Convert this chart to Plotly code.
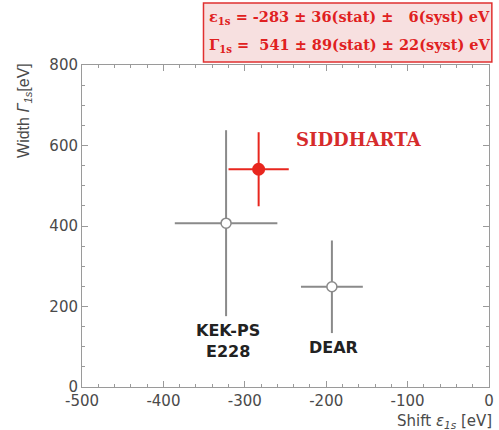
import plotly.graph_objects as go

names = ["SIDDHARTA", "KEK-PS E228", "DEAR"]
shift = [-283, -323, -193]
shift_err = [37, 63, 38]
width = [541, 407, 249]
width_err = [92, 231, 115]

x_ticks = [-500, -400, -300, -200, -100, 0]
x_ticktext = ["-500", "-400", "-300", "-200", "-100", "0"]
y_ticks = [0, 200, 400, 600, 800]

fig = go.Figure()

gray = "#8a8a8a"
red = "#e8261e"

# KEK-PS and DEAR (open markers)
fig.add_trace(go.Scatter(
    x=shift[1:], y=width[1:], mode="markers",
    marker=dict(symbol="circle", size=10, color="white", line=dict(color=gray, width=1.5)),
    error_x=dict(type="data", array=shift_err[1:], color=gray, thickness=2, width=0),
    error_y=dict(type="data", array=width_err[1:], color=gray, thickness=2, width=0),
    showlegend=False, hoverinfo="skip"))

# SIDDHARTA
fig.add_trace(go.Scatter(
    x=shift[:1], y=width[:1], mode="markers",
    marker=dict(symbol="circle", size=13, color=red, line=dict(color=red, width=0)),
    error_x=dict(type="data", array=shift_err[:1], color=red, thickness=2, width=0),
    error_y=dict(type="data", array=width_err[:1], color=red, thickness=2, width=0),
    showlegend=False, hoverinfo="skip"))

axis_common = dict(
    showgrid=False, zeroline=False, showline=True, linecolor="#9a9a9a", linewidth=1,
    mirror="ticks", ticks="inside", tickcolor="#9a9a9a", ticklen=6, tickwidth=1,
    tickfont=dict(family="DejaVu Sans", size=15, color="#4a4a4a"),
)
fig.update_xaxes(range=[-500, 0], tickvals=x_ticks, ticktext=x_ticktext,
                 minor=dict(dtick=20, ticks="inside", ticklen=3, tickcolor="#9a9a9a"),
                 **axis_common)
fig.update_yaxes(range=[0, 800], tickvals=y_ticks,
                 minor=dict(dtick=50, ticks="inside", ticklen=3, tickcolor="#9a9a9a"),
                 **axis_common)

fig.update_layout(
    width=499, height=430,
    margin=dict(l=82, r=5, t=65, b=43),
    plot_bgcolor="white", paper_bgcolor="white",
)

# Axis titles
fig.add_annotation(text="Shift <i>ε<sub>1s</sub></i> [eV]", xref="paper", yref="paper",
                   x=1.012, y=-0.072, xanchor="right", yanchor="top", showarrow=False,
                   font=dict(family="DejaVu Sans", size=15, color="#4a4a4a"))
fig.add_annotation(text="Width <i>Γ<sub>1s</sub></i>[eV]", xref="paper", yref="paper",
                   x=-0.17, y=1.012, xanchor="left", yanchor="top", textangle=-90, showarrow=False,
                   font=dict(family="Liberation Sans, Arial", size=16, color="#4a4a4a"))

# Data labels
fig.add_annotation(text="<b>SIDDHARTA</b>", x=-160, y=616, showarrow=False,
                   font=dict(family="DejaVu Serif", size=18, color="#d62b2b"))
fig.add_annotation(text="<b>KEK-PS<br>E228</b>", x=-321, y=114, showarrow=False,
                   font=dict(family="DejaVu Sans", size=16, color="#222222"))
fig.add_annotation(text="<b>DEAR</b>", x=-191, y=99, showarrow=False,
                   font=dict(family="DejaVu Sans", size=16, color="#222222"))

# Result box
fig.add_shape(type="rect", xref="paper", yref="paper",
              x0=0.2985, x1=1.007, y0=1.009, y1=1.1925,
              line=dict(color="#e03030", width=1.5), fillcolor="#f7e0e0", layer="above")
line1 = "<b>ε<sub>1s</sub> = -283 ± 36(stat) ±\u00a0\u00a0 6(syst) eV</b>"
line2 = "<b>Γ<sub>1s</sub> =\u00a0 541 ± 89(stat) ± 22(syst) eV</b>"
fig.add_annotation(text=line1, xref="paper", yref="paper", x=0.308, y=(387-18)/322,
                   xanchor="left", yanchor="middle", showarrow=False,
                   font=dict(family="DejaVu Serif", size=14.5, color="#e02020"))
fig.add_annotation(text=line2, xref="paper", yref="paper", x=0.308, y=(387-45)/322,
                   xanchor="left", yanchor="middle", showarrow=False,
                   font=dict(family="DejaVu Serif", size=14.5, color="#e02020"))

fig.write_html("out.html")
